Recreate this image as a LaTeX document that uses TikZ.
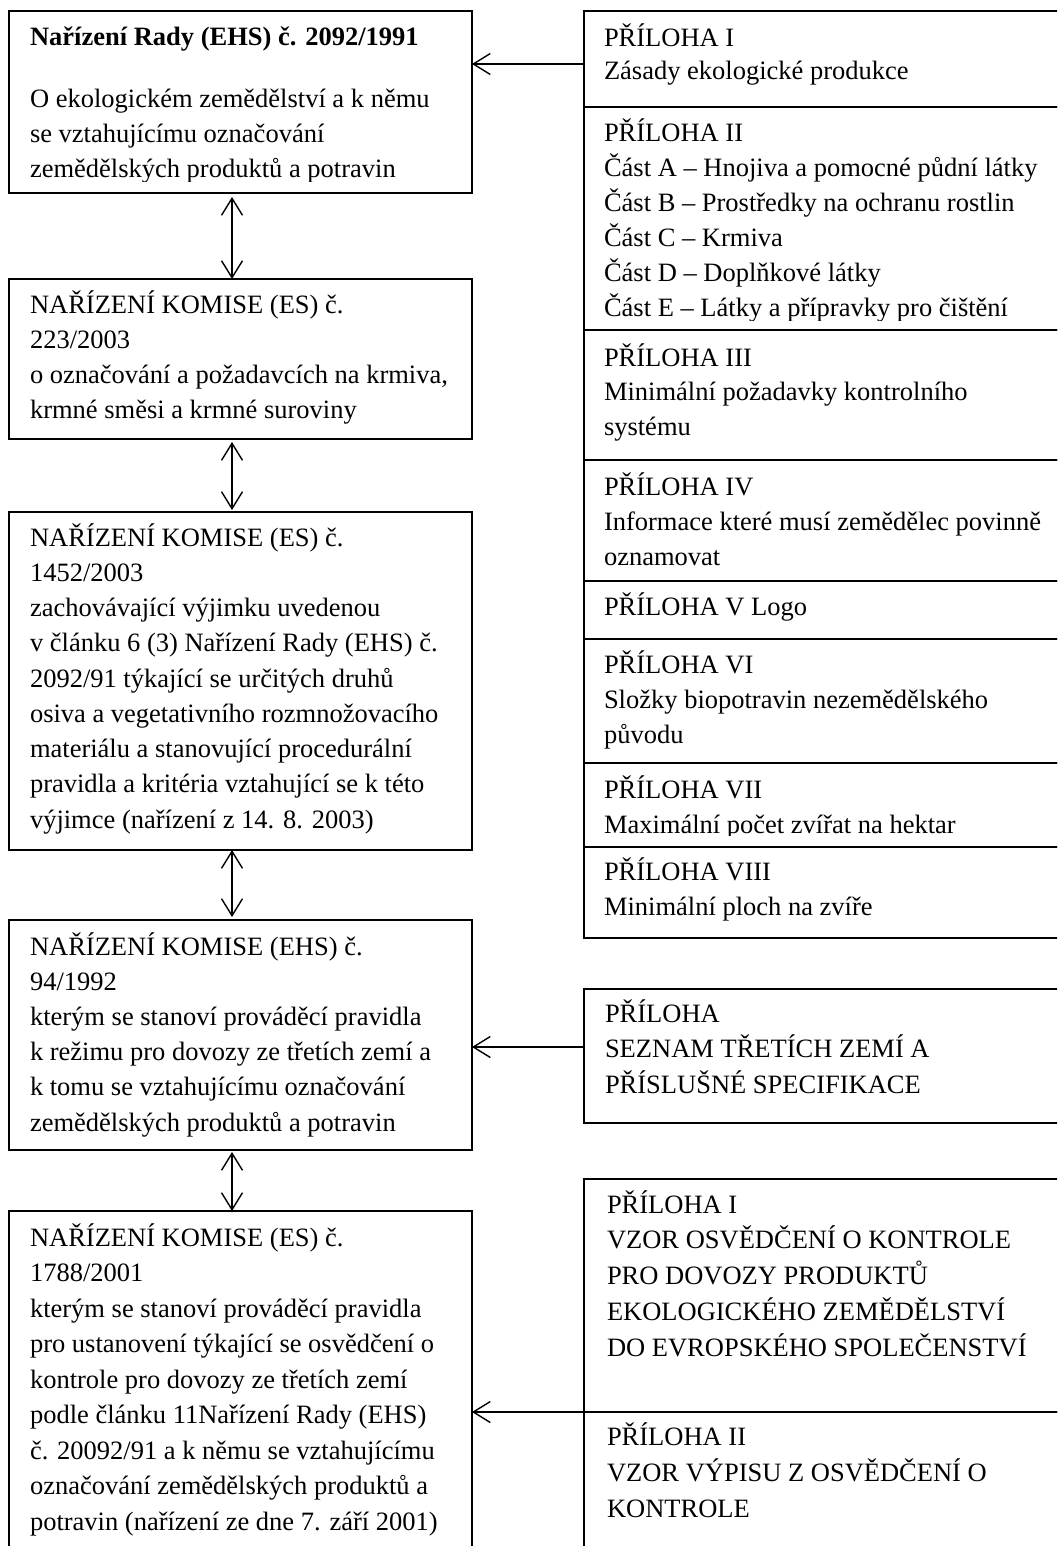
\documentclass[tikz,border=0pt]{standalone}
\usepackage{fontspec}
\setmainfont{Liberation Serif}
\usetikzlibrary{arrows.meta}
\tikzset{
  box/.style={draw, line width=1.6pt, inner sep=0pt, outer sep=0pt, anchor=north west},
  tx/.style={anchor=base west, inner sep=0pt, outer sep=0pt, font=\fontsize{26.5}{35}\selectfont},
  arr/.style={line width=1.4pt, -{Straight Barb[length=17pt,width=21pt]}},
  darr/.style={line width=1.4pt, {Straight Barb[length=17pt,width=21pt]}-{Straight Barb[length=17pt,width=21pt]}},
}
\newcommand\blk[2]{\parbox[t]{500pt}{\baselineskip=#1pt\relax #2\par}}
\begin{document}
\begin{tikzpicture}[x=1pt,y=-1pt]
\useasboundingbox (0,0) rectangle (1057,1546);
\clip (0,0) rectangle (1057,1546);
\fill[white] (0,0) rectangle (1057,1546);

% left column
\node[box, minimum width=463pt, minimum height=182pt] (L1) at (9,11) {};
\node[box, minimum width=463pt, minimum height=160pt] (L2) at (9,279) {};
\node[box, minimum width=463pt, minimum height=338pt] (L3) at (9,512) {};
\node[box, minimum width=463pt, minimum height=230pt] (L4) at (9,920) {};
\node[box, minimum width=463pt, minimum height=389pt] (L5) at (9,1211) {};

% right column
\node[box, minimum width=516pt, minimum height=96pt]  (R1) at (584,11) {};
\node[box, minimum width=516pt, minimum height=223pt] (R2) at (584,107) {};
\node[box, minimum width=516pt, minimum height=130pt] (R3) at (584,330) {};
\node[box, minimum width=516pt, minimum height=121pt] (R4) at (584,460) {};
\node[box, minimum width=516pt, minimum height=58pt]  (R5) at (584,581) {};
\node[box, minimum width=516pt, minimum height=124pt] (R6) at (584,639) {};
\node[box, minimum width=516pt, minimum height=84pt]  (R7) at (584,763) {};
\node[box, minimum width=516pt, minimum height=91pt]  (R8) at (584,847) {};
\node[box, minimum width=516pt, minimum height=134pt] (S)  at (584,989) {};
\node[box, minimum width=516pt, minimum height=233pt] (B1) at (584,1179) {};
\node[box, minimum width=516pt, minimum height=188pt] (B2) at (584,1412) {};

% texts left
\begin{scope}
\clip (9,11) rectangle (472,182);
\node[tx] (tL1) at (30,46) {\blk{35}{\textbf{Nařízení Rady (EHS) č. 2092/1991}\\[27pt]O ekologickém zemědělství a k němu\\se vztahujícímu označování\\zemědělských produktů a potravin}};
\end{scope}
\node[tx] (tL2) at (30,313) {\blk{35.3}{NAŘÍZENÍ KOMISE (ES) č.\\223/2003\\o označování a požadavcích na krmiva,\\krmné směsi a krmné suroviny}};
\node[tx] (tL3) at (30,546) {\blk{35.25}{NAŘÍZENÍ KOMISE (ES) č.\\1452/2003\\zachovávající výjimku uvedenou\\v článku 6 (3) Nařízení Rady (EHS) č.\\2092/91 týkající se určitých druhů\\osiva a vegetativního rozmnožovacího\\materiálu a stanovující procedurální\\pravidla a kritéria vztahující se k této\\výjimce (nařízení z 14. 8. 2003)}};
\node[tx] (tL4) at (30,955) {\blk{35.2}{NAŘÍZENÍ KOMISE (EHS) č.\\94/1992\\kterým se stanoví prováděcí pravidla\\k režimu pro dovozy ze třetích zemí a\\k tomu se vztahujícímu označování\\zemědělských produktů a potravin}};
\node[tx] (tL5) at (30,1246) {\blk{35.5}{NAŘÍZENÍ KOMISE (ES) č.\\1788/2001\\kterým se stanoví prováděcí pravidla\\pro ustanovení týkající se osvědčení o\\kontrole pro dovozy ze třetích zemí\\podle článku 11Nařízení Rady (EHS)\\č. 20092/91 a k němu se vztahujícímu\\označování zemědělských produktů a\\potravin (nařízení ze dne 7. září 2001)}};

% texts right
\node[tx] (tR1) at (604,47) {\blk{33}{PŘÍLOHA I\\Zásady ekologické produkce}};
\begin{scope}
\clip (584,107) rectangle (1057,320);
\node[tx] (tR2) at (604,142) {\blk{35}{PŘÍLOHA II\\Část A – Hnojiva a pomocné půdní látky\\Část B – Prostředky na ochranu rostlin\\Část C – Krmiva\\Část D – Doplňkové látky\\Část E – Látky a přípravky pro čištění}};
\end{scope}
\node[tx] (tR3) at (604,366) {\blk{34.5}{PŘÍLOHA III\\Minimální požadavky kontrolního\\systému}};
\node[tx] (tR4) at (604,495) {\blk{35}{PŘÍLOHA IV\\Informace které musí zemědělec povinně\\oznamovat}};
\node[tx] (tR5) at (604,615) {\blk{35}{PŘÍLOHA V Logo}};
\node[tx] (tR6) at (604,673) {\blk{35}{PŘÍLOHA VI\\Složky biopotravin nezemědělského\\původu}};
\begin{scope}
\clip (584,763) rectangle (1057,835);
\node[tx] (tR7) at (604,798) {\blk{35}{PŘÍLOHA VII\\Maximální počet zvířat na hektar}};
\end{scope}
\node[tx] (tR8) at (604,880) {\blk{35}{PŘÍLOHA VIII\\Minimální ploch na zvíře}};
\node[tx] (tS) at (605,1022) {\blk{35.5}{PŘÍLOHA\\SEZNAM TŘETÍCH ZEMÍ A\\PŘÍSLUŠNÉ SPECIFIKACE}};
\node[tx] (tB1) at (607,1213) {\blk{35.75}{PŘÍLOHA I\\VZOR OSVĚDČENÍ O KONTROLE\\PRO DOVOZY PRODUKTŮ\\EKOLOGICKÉHO ZEMĚDĚLSTVÍ\\DO EVROPSKÉHO SPOLEČENSTVÍ}};
\node[tx] (tB2) at (607,1445) {\blk{36}{PŘÍLOHA II\\VZOR VÝPISU Z OSVĚDČENÍ O\\KONTROLE}};

% horizontal connectors
\path ([yshift=-5pt]R1.west) coordinate (a1);
\draw[arr] (a1) -- (a1 -| L1.east);
\path ([yshift=9pt]S.west) coordinate (a2);
\draw[arr] (a2) -- (a2 -| L4.east);
\draw[arr] (B1.south west) -- (B1.south west -| L5.east);

% vertical connectors
\draw[darr, shorten <=4pt] ([xshift=-8.5pt]L1.south) -- ([xshift=-8.5pt]L2.north);
\draw[darr, shorten <=3pt, shorten >=2pt] ([xshift=-8.5pt]L2.south) -- ([xshift=-8.5pt]L3.north);
\draw[darr, shorten >=3pt] ([xshift=-8.5pt]L3.south) -- ([xshift=-8.5pt]L4.north);
\draw[darr, shorten <=2pt] ([xshift=-8.5pt]L4.south) -- ([xshift=-8.5pt]L5.north);
\end{tikzpicture}
\end{document}
